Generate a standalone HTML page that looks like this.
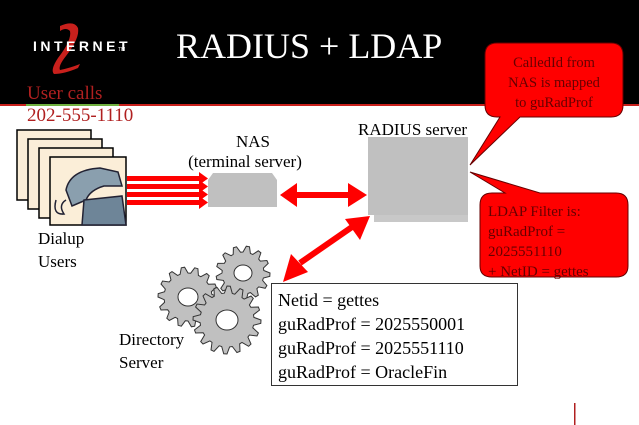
<!DOCTYPE html>
<html><head><meta charset="utf-8"><style>
html,body{margin:0;padding:0;width:639px;height:425px;overflow:hidden;background:#fff}
svg{display:block;font-family:"Liberation Serif",serif}
text,tspan{font-family:"Liberation Serif",serif}
</style></head><body>
<svg width="639" height="425" viewBox="0 0 639 425" font-family="Liberation Serif, serif">
<rect x="0" y="0" width="639" height="104" fill="#000"/>
<rect x="0" y="104" width="639" height="2" fill="#c8201c"/>
<rect x="26" y="104" width="93" height="2" fill="#6fb03f"/>
<!-- logo -->
<path d="M60 26 Q74 20 78 28 Q80 38 66 56 Q58 66 60 70 Q70 68 80 64 L78 68 Q64 74 54 74 Q50 70 58 58 Q72 40 70 31 Q66 27 60 31 Z" fill="#c8201c"/>
<text x="33" y="51" fill="#fff" font-weight="bold" font-size="14" letter-spacing="3.5" style="font-family:'Liberation Sans',sans-serif">INTERNET</text>
<text x="118" y="51" fill="#fff" font-size="5" style="font-family:'Liberation Sans',sans-serif">TM</text>
<text x="176" y="58" fill="#fff" font-size="36">RADIUS + LDAP</text>
<text x="27" y="99" fill="#b02020" font-size="19">User calls</text>
<text x="27" y="121" fill="#b02020" font-size="19">202-555-1110</text>
<!-- callout 1 -->
<path d="M497 43 L611 43 Q623 43 623 55 L623 105 Q623 117 611 117 L520 117 L470 165 L500 117 L497 117 Q485 117 485 105 L485 55 Q485 43 497 43 Z" fill="#f00" stroke="#600" stroke-width="1"/>
<text fill="#600" font-size="14.5" text-anchor="middle"><tspan x="554" y="67">CalledId from</tspan><tspan x="554" y="87">NAS is mapped</tspan><tspan x="554" y="107">to guRadProf</tspan></text>
<!-- callout 2 -->
<path d="M470 172 L540 193 L616 193 Q628 193 628 205 L628 266 Q628 277 616 277 L492 277 Q480 277 480 266 L480 205 Q480 193 492 193 L505 193 Z" fill="#f00" stroke="#600" stroke-width="1"/>
<text fill="#600" font-size="15"><tspan x="488" y="216">LDAP Filter is:</tspan><tspan x="488" y="236">guRadProf =</tspan><tspan x="488" y="256">2025551110</tspan><tspan x="488" y="276">+ NetID = gettes</tspan></text>
<!-- cards -->
<g stroke="#000" stroke-width="1.5" fill="#fbeed8">
<rect x="17" y="130" width="74" height="70"/>
<rect x="28" y="139" width="74" height="70"/>
<rect x="39" y="148" width="74" height="70"/>
<rect x="50" y="157" width="76" height="68"/>
</g>
<path d="M66 190 Q70 170 100 168 L118 172 L122 186 L104 186 Q90 190 86 200 L72 206 Z" fill="#8a9fae" stroke="#223" stroke-width="1.5"/>
<path d="M84 200 L122 196 L126 225 L82 225 Z" fill="#6e8598" stroke="#223" stroke-width="1.5"/>
<path d="M56 200 Q52 215 64 214 Q58 205 66 200" fill="none" stroke="#223" stroke-width="1.5"/>
<!-- red arrows to NAS -->
<g fill="#f00">
<rect x="127" y="176" width="74" height="5"/><polygon points="199,172 208,178.5 199,185"/>
<rect x="127" y="184" width="74" height="5"/><polygon points="199,180 208,186.5 199,193"/>
<rect x="127" y="192" width="74" height="5"/><polygon points="199,188 208,194.5 199,201"/>
<rect x="127" y="200" width="74" height="5"/><polygon points="199,196 208,202.5 199,209"/>
</g>
<text x="38" y="244" font-size="17">Dialup</text>
<text x="38" y="267" font-size="17">Users</text>
<text x="253" y="147" font-size="17" text-anchor="middle">NAS</text>
<text x="245" y="167" font-size="17" text-anchor="middle">(terminal server)</text>
<path d="M208 180 L213 173 L272 173 L277 180 L277 207 L208 207 Z" fill="#c0c0c0"/>
<text x="358" y="135" font-size="17">RADIUS server</text>
<rect x="374" y="143" width="94" height="79" fill="#c8c8c8"/>
<rect x="368" y="137" width="100" height="78" fill="#c0c0c0"/>
<!-- arrows -->
<g fill="#f00">
<rect x="295" y="192" width="55" height="6"/>
<polygon points="280,195 297,183 297,207"/>
<polygon points="367,195 348,183 348,207"/>
<line x1="300" y1="263" x2="352" y2="227" stroke="#f00" stroke-width="6"/>
<polygon points="283,282 291,254 308,272"/>
<polygon points="370,216 345,219 360,240"/>
</g>
<!-- gears -->
<g id="gears" fill="#c0c0c0" stroke="#333" stroke-width="1"></g>
<text x="119" y="345" font-size="17">Directory</text>
<text x="119" y="368" font-size="17">Server</text>
<rect x="271.5" y="283.5" width="246" height="102" fill="#fff" stroke="#333" stroke-width="1"/>
<text font-size="18"><tspan x="278" y="306">Netid = gettes</tspan><tspan x="278" y="330">guRadProf = 2025550001</tspan><tspan x="278" y="354">guRadProf = 2025551110</tspan><tspan x="278" y="378">guRadProf = OracleFin</tspan></text>
<rect x="574" y="403" width="1.5" height="22" fill="#b02020"/>
</svg>
<script>
(function(){
var g=document.getElementById('gears');var ns='http://www.w3.org/2000/svg';
function gear(cx,cy,R,r,n,hx,hy){
 var d='',N=n*4;
 for(var i=0;i<N;i++){var a=i/N*2*Math.PI;var rad=(i%4<2)?R:r;
  var x=cx+rad*Math.cos(a),y=cy+rad*Math.sin(a);d+=(i?'L':'M')+x.toFixed(1)+' '+y.toFixed(1);}
 d+='Z';var p=document.createElementNS(ns,'path');p.setAttribute('d',d);g.appendChild(p);
 var e=document.createElementNS(ns,'ellipse');e.setAttribute('cx',cx);e.setAttribute('cy',cy);e.setAttribute('rx',hx);e.setAttribute('ry',hy);e.setAttribute('fill','#fff');g.appendChild(e);
}
gear(188,297,30,24,14,10,9);
gear(243,273,27,21,13,9,8);
gear(227,320,34,27,16,11,10);
})();
</script>
</body></html>
